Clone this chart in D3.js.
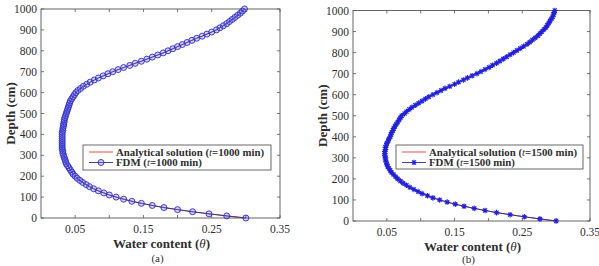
<!DOCTYPE html>
<html>
<head>
<meta charset="utf-8">
<script src="https://cdn.jsdelivr.net/npm/d3@7"></script>
<style>
  body { margin: 0; background: #fff; }
  svg text { font-family: "Liberation Serif", "DejaVu Serif", serif; fill: #2e2e2e; }
</style>
</head>
<body>
<svg id="chart" width="599" height="266"></svg>
<script>
// depth grid of the FDM nodes (cm)
var depth = [0,10,20,30,40,50,60,70,80,90,100,110,120,130,140,150,160,170,180,190,
  200,210,220,230,240,250,260,270,280,290,300,310,320,330,340,350,360,370,380,390,
  400,410,420,430,440,450,460,470,480,490,500,510,520,530,540,550,560,570,580,590,
  600,610,620,630,640,650,660,670,680,690,700,710,720,730,740,750,760,770,780,790,
  800,810,820,830,840,850,860,870,880,890,900,910,920,930,940,950,960,970,980,990,1000];

// water content, t = 1000 min (analytical and FDM coincide at this scale)
var theta1000 = [0.300,0.272,0.246,0.222,0.200,0.180,0.163,0.147,0.133,0.121,
  0.110,0.100,0.092,0.084,0.077,0.071,0.066,0.061,0.057,0.053,
  0.050,0.047,0.045,0.043,0.041,0.039,0.037,0.036,0.035,0.034,
  0.033,0.032,0.032,0.031,0.031,0.031,0.031,0.031,0.031,0.031,
  0.031,0.031,0.032,0.032,0.033,0.033,0.034,0.034,0.035,0.036,
  0.037,0.038,0.039,0.040,0.041,0.042,0.043,0.045,0.047,0.049,
  0.051,0.054,0.058,0.062,0.067,0.072,0.078,0.084,0.091,0.098,
  0.105,0.113,0.121,0.130,0.138,0.147,0.155,0.163,0.171,0.179,
  0.186,0.193,0.200,0.207,0.214,0.221,0.228,0.236,0.243,0.250,
  0.257,0.262,0.267,0.272,0.276,0.280,0.284,0.288,0.292,0.295,0.298];

// water content, t = 1500 min
var theta1500 = [0.300,0.276,0.253,0.232,0.212,0.195,0.179,0.164,0.151,0.139,
  0.128,0.118,0.110,0.102,0.096,0.090,0.084,0.079,0.074,0.070,
  0.066,0.063,0.060,0.057,0.055,0.053,0.051,0.050,0.049,0.048,
  0.048,0.047,0.047,0.047,0.048,0.048,0.049,0.050,0.052,0.053,
  0.055,0.056,0.057,0.059,0.060,0.062,0.064,0.066,0.068,0.070,
  0.072,0.076,0.079,0.083,0.087,0.092,0.097,0.102,0.107,0.112,
  0.118,0.124,0.130,0.136,0.143,0.150,0.156,0.163,0.169,0.176,
  0.183,0.189,0.195,0.201,0.206,0.212,0.217,0.222,0.227,0.232,
  0.237,0.242,0.247,0.252,0.257,0.261,0.265,0.269,0.273,0.276,
  0.279,0.282,0.285,0.287,0.289,0.291,0.293,0.295,0.296,0.297,0.298];

var xTicks = [0.05,0.10,0.15,0.20,0.25,0.30,0.35];
var xTickLabels = ["0.05","0.15","0.25","0.35"];
var yTicks = [0,100,200,300,400,500,600,700,800,900,1000];

var svg = d3.select("#chart");

var panels = [
  { theta: theta1000, t: "1000", tag: "(a)", tagY: 262, marker: "circle",
    x0: 41, x1: 280, y0: 218, y1: 9, legX: 83, legY: 145, legW: 188, legH: 25 },
  { theta: theta1500, t: "1500", tag: "(b)", tagY: 263, marker: "star",
    x0: 353, x1: 590, y0: 221, y1: 10.5, legX: 396, legY: 145, legW: 187, legH: 24 }
];

panels.forEach(drawPanel);

function drawPanel(p) {
  var x = d3.scaleLinear().domain([0, 0.35]).range([p.x0, p.x1]);
  var y = d3.scaleLinear().domain([0, 1000]).range([p.y0, p.y1]);
  var g = svg.append("g");
  var pts = depth.map(function(d, i) { return { d: d, th: p.theta[i] }; });

  // ticks, inward on all four sides
  var tk = 3;
  g.selectAll("line.xt").data(xTicks).enter().append("line")
    .attr("x1", function(d) { return x(d); }).attr("x2", function(d) { return x(d); })
    .attr("y1", p.y0).attr("y2", p.y0 - tk)
    .style("stroke", "#555").style("stroke-width", 0.8);
  g.selectAll("line.xt2").data(xTicks).enter().append("line")
    .attr("x1", function(d) { return x(d); }).attr("x2", function(d) { return x(d); })
    .attr("y1", p.y1).attr("y2", p.y1 + tk)
    .style("stroke", "#555").style("stroke-width", 0.8);
  g.selectAll("line.yt").data(yTicks).enter().append("line")
    .attr("x1", p.x0).attr("x2", p.x0 + tk)
    .attr("y1", function(d) { return y(d); }).attr("y2", function(d) { return y(d); })
    .style("stroke", "#555").style("stroke-width", 0.8);
  g.selectAll("line.yt2").data(yTicks).enter().append("line")
    .attr("x1", p.x1).attr("x2", p.x1 - tk)
    .attr("y1", function(d) { return y(d); }).attr("y2", function(d) { return y(d); })
    .style("stroke", "#555").style("stroke-width", 0.8);

  g.append("rect")
    .attr("x", p.x0).attr("y", p.y1)
    .attr("width", p.x1 - p.x0).attr("height", p.y0 - p.y1)
    .style("fill", "none").style("stroke", "#555").style("stroke-width", 0.9);

  // tick labels
  g.selectAll("text.xl").data(xTickLabels).enter().append("text")
    .attr("x", function(d) { return x(+d); }).attr("y", p.y0 + 15)
    .attr("text-anchor", "middle").style("font-size", "11.5px")
    .text(function(d) { return d; });
  g.selectAll("text.yl").data(yTicks).enter().append("text")
    .attr("x", p.x0 - 4).attr("y", function(d) { return y(d) + 4; })
    .attr("text-anchor", "end").style("font-size", "11.5px")
    .text(function(d) { return d; });

  // axis titles
  var cx = (p.x0 + p.x1) / 2;
  var xt = g.append("text").attr("x", cx + 1).attr("y", p.y0 + 30)
    .attr("text-anchor", "middle").style("font-size", "13px").style("font-weight", "bold");
  xt.append("tspan").text("Water content (");
  xt.append("tspan").style("font-style", "italic").style("font-weight", "normal").text("θ");
  xt.append("tspan").text(")");
  g.append("text")
    .attr("transform", "translate(" + (p.x0 - 26) + "," + ((p.y0 + p.y1) / 2) + ") rotate(-90)")
    .attr("text-anchor", "middle").style("font-size", "13px").style("font-weight", "bold")
    .text("Depth (cm)");
  g.append("text").attr("x", cx - 3).attr("y", p.tagY)
    .attr("text-anchor", "middle").style("font-size", "11px").text(p.tag);

  // curves
  var line = d3.line().x(function(d) { return x(d.th); }).y(function(d) { return y(d.d); });
  g.append("path").datum(pts).attr("d", line)
    .style("fill", "none").style("stroke", "#e23b3b").style("stroke-width", 0.9);
  g.append("path").datum(pts).attr("d", line)
    .style("fill", "none").style("stroke", "#2c2c8a").style("stroke-width", 0.9);
  drawMarkers(g, pts, x, y, p.marker);

  // legend
  var lg = g.append("g");
  lg.append("rect").attr("x", p.legX).attr("y", p.legY).attr("width", p.legW).attr("height", p.legH)
    .style("fill", "#fff").style("stroke", "#444").style("stroke-width", 0.8);
  var r1 = p.legY + 7, r2 = p.legY + 17.5;
  lg.append("line").attr("x1", p.legX + 6).attr("x2", p.legX + 30).attr("y1", r1).attr("y2", r1)
    .style("stroke", "#e23b3b").style("stroke-width", 0.9);
  lg.append("line").attr("x1", p.legX + 6).attr("x2", p.legX + 30).attr("y1", r2).attr("y2", r2)
    .style("stroke", "#2c2c8a").style("stroke-width", 0.9);
  drawMarkers(lg, [{ px: p.legX + 18, py: r2 }], null, null, p.marker);
  var t1 = lg.append("text").attr("x", p.legX + 33).attr("y", r1 + 3.6)
    .style("font-size", "10.8px").style("font-weight", "bold");
  t1.append("tspan").text("Analytical solution (");
  t1.append("tspan").style("font-style", "italic").style("font-weight", "normal").text("t");
  t1.append("tspan").text("=" + p.t + " min)");
  var t2 = lg.append("text").attr("x", p.legX + 33).attr("y", r2 + 3.6)
    .style("font-size", "10.8px").style("font-weight", "bold");
  t2.append("tspan").text("FDM (");
  t2.append("tspan").style("font-style", "italic").style("font-weight", "normal").text("t");
  t2.append("tspan").text("=" + p.t + " min)");
}

function drawMarkers(g, pts, x, y, kind) {
  var px = function(d) { return x ? x(d.th) : d.px; };
  var py = function(d) { return y ? y(d.d) : d.py; };
  if (kind === "circle") {
    g.selectAll(null).data(pts).enter().append("circle")
      .attr("cx", px).attr("cy", py).attr("r", 3)
      .style("fill", "rgba(110,110,220,0.3)")
      .style("stroke", "#2b2bd6").style("stroke-width", 0.9);
  } else {
    var s = 2.8, q = s * 0.72;
    g.selectAll(null).data(pts).enter().append("path")
      .attr("transform", function(d) { return "translate(" + px(d) + "," + py(d) + ")"; })
      .attr("d", "M" + (-s) + ",0H" + s + "M0," + (-s) + "V" + s +
                 "M" + (-q) + "," + (-q) + "L" + q + "," + q +
                 "M" + (-q) + "," + q + "L" + q + "," + (-q))
      .style("fill", "none").style("stroke", "#1f1fe0").style("stroke-width", 1.1);
  }
}
</script>
</body>
</html>
